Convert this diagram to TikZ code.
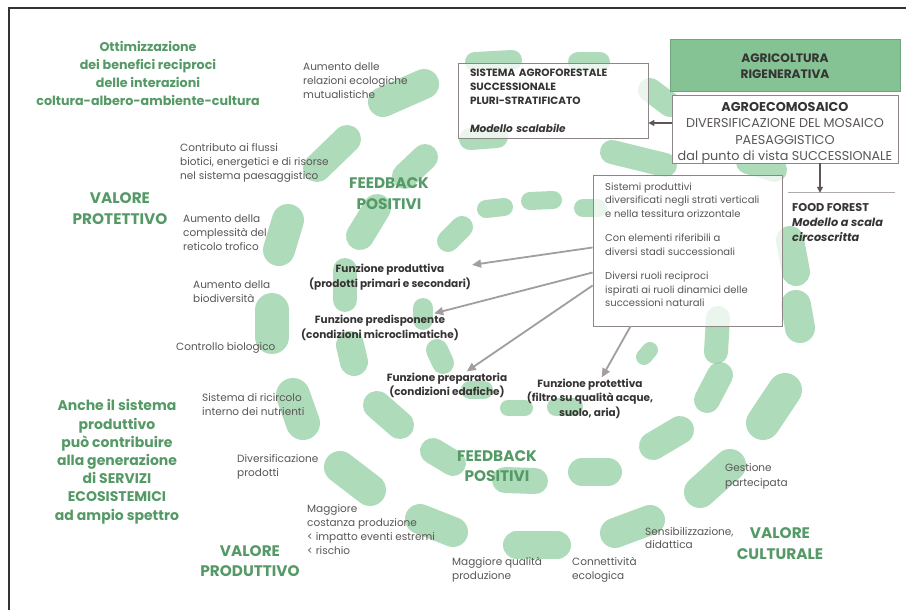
\documentclass[tikz,border=0pt]{standalone}
\usepackage{fontspec}
\setmainfont{Poppins}
\usetikzlibrary{arrows.meta,calc}
\definecolor{blobg}{HTML}{90CE9F}
\definecolor{dgreen}{HTML}{559A66}
\definecolor{txt}{HTML}{5A5555}
\definecolor{dtxt}{HTML}{363333}
\definecolor{boxline}{HTML}{8E8585}
\definecolor{agfill}{HTML}{85C294}
\definecolor{agline}{HTML}{6FA67E}
\definecolor{arrg}{HTML}{A39D9D}
\definecolor{darrc}{HTML}{5E5656}
\newcommand{\gb}[3]{%
  \draw[line cap=round, line width=#1, draw=blobg, draw opacity=0.72] #2 -- #3;}
\begin{document}
\begin{tikzpicture}[x=1pt,y=-1pt,
  bigg/.style={font=\fontsize{15.3}{21}\selectfont\bfseries, text=dgreen, align=center, anchor=base, inner sep=0pt},
  midg/.style={font=\fontsize{12.7}{18}\selectfont\bfseries, text=dgreen, align=center, anchor=base, inner sep=0pt},
  small/.style={font=\fontsize{10.5}{14}\selectfont, text=txt, align=left, anchor=base west, inner sep=0pt},
  func/.style={font=\fontsize{10.5}{15}\selectfont\bfseries, text=dtxt, align=center, anchor=base, inner sep=1pt},
  garr/.style={draw=arrg, line width=1.8pt, -{Triangle[length=9pt,width=8pt]}},
  darr/.style={draw=darrc, line width=1.4pt, -{Triangle[length=6pt,width=6pt]}},
  tbox/.style={draw=boxline, line width=0.8pt, fill=white, fill opacity=0.75, text opacity=1}
]
\useasboundingbox (0,0) rectangle (906,610);
\fill[white] (0,0) rectangle (906,610);

% ---- green blobs (spiral) ----
\gb{30pt}{(383,102)}{(424,84)}
\gb{28pt}{(317,168)}{(347,139)}
\gb{26pt}{(405,176)}{(425,157)}
\gb{28pt}{(360,236)}{(377,208)}
\gb{32pt}{(279,250)}{(288,220)}
\gb{22pt}{(448,241)}{(462,227)}
\gb{18pt}{(486,209)}{(504,207)}
\gb{18pt}{(530,201)}{(553,200)}
\gb{18pt}{(583,208)}{(598,208)}
\gb{22pt}{(470,139)}{(497,137)}
\gb{20pt}{(475,62)}{(512,60)}
\gb{20pt}{(578,62)}{(600,62)}
\gb{24pt}{(345,270)}{(345,300)}
\gb{20pt}{(423,308)}{(423,320)}
\gb{34pt}{(272,310)}{(272,337)}
\gb{28pt}{(350,345)}{(354,362)}
\gb{22pt}{(437,350)}{(443,363)}
\gb{34pt}{(293,395)}{(303,423)}
\gb{28pt}{(377,405)}{(400,425)}
\gb{32pt}{(340,467)}{(370,490)}
\gb{26pt}{(433,451)}{(453,463)}
\gb{26pt}{(505,480)}{(535,481)}
\gb{16pt}{(508,408)}{(525,408)}
\gb{18pt}{(556,407)}{(574,407)}
\gb{30pt}{(420,519)}{(453,532)}
\gb{28pt}{(517,545)}{(557,545)}
\gb{28pt}{(582,472)}{(608,472)}
\gb{30pt}{(615,533)}{(650,520)}
\gb{28pt}{(653,446)}{(680,430)}
\gb{32pt}{(700,492)}{(730,465)}
\gb{26pt}{(707,400)}{(720,375)}
\gb{34pt}{(763,423)}{(785,390)}
\gb{16pt}{(644,357)}{(650,350)}
\gb{24pt}{(718,318)}{(716,352)}
\gb{28pt}{(790,240)}{(796,272)}
\gb{30pt}{(796,305)}{(800,328)}
\gb{24pt}{(650,90)}{(670,105)}
\gb{24pt}{(612,152)}{(665,165)}
\gb{24pt}{(748,162)}{(775,170)}
\gb{18pt}{(470,390)}{(484,390)}

% ---- frame ----
\draw[line width=1.3pt, draw=black!80] (906,8) -- (9,8) -- (9,610);

% ---- boxes ----
\node[draw=agline, fill=agfill, line width=0.8pt, minimum width=230pt, minimum height=52pt] (agric) at (785,65) {};
\node[font=\fontsize{12.2}{16}\selectfont\bfseries, text=dtxt, align=center, anchor=base, inner sep=0pt] (agrictxt) at (785,78.5)
      {AGRICOLTURA\\RIGENERATIVA};
\node[draw=boxline, fill=white, line width=0.8pt, minimum width=226pt, minimum height=68pt] (agro) at (785,129) {};
\node[font=\fontsize{12.8}{16.3}\selectfont, text=txt, align=center, anchor=base, inner sep=0pt] (agrotxt) at (785,160.5)
      {{\bfseries\color{dtxt}AGROECOMOSAICO}\\DIVERSIFICAZIONE DEL MOSAICO\\PAESAGGISTICO\\dal punto di vista SUCCESSIONALE};
\node[tbox, minimum width=190pt, minimum height=75pt, inner xsep=12pt, text width=166pt, align=left,
      font=\fontsize{10.5}{14}\selectfont\bfseries, text=dtxt] (sis) at (553,100.5)
      {SISTEMA AGROFORESTALE\\SUCCESSIONALE\\PLURI-STRATIFICATO\\[14pt]\itshape Modello scalabile};
\node[tbox, minimum width=189pt, minimum height=151pt] (sist) at (687.5,250.5) {};
\node[font=\fontsize{10}{13.5}\selectfont, text=txt, align=left, anchor=base west, inner sep=0pt] (sisttxt) at (605,306.5)
      {Sistemi produttivi\\diversificati negli strati verticali\\e nella tessitura orizzontale\\[11pt]Con elementi riferibili a\\diversi stadi successionali\\[11pt]Diversi ruoli reciproci\\ispirati ai ruoli dinamici delle\\successioni naturali};
\node[minimum width=107pt, minimum height=52pt] (food) at (841.5,219) {};
\node[font=\fontsize{11.3}{15}\selectfont\bfseries, text=dtxt, align=left, anchor=base west, inner sep=0pt] (foodtxt) at (792,241)
      {FOOD FOREST\\\itshape Modello a scala\\\itshape circoscritta};
\draw[draw=boxline!70, line width=0.8pt] (food.north west) -- (food.north east);

% ---- dark arrows ----
\draw[darr] ([yshift=6pt]agro.west) -- ([yshift=6pt]agro.west -| sis.east);
\draw[darr] ([xshift=35pt]agro.south) -- ([xshift=35pt]agro.south |- food.north);

% ---- green headings ----
\node[midg] (otti) at (148,106) {Ottimizzazione\\dei benefici reciproci\\delle interazioni\\coltura-albero-ambiente-cultura};
\node[bigg] (vprot) at (120,224.5) {VALORE\\PROTETTIVO};
\node[midg, font=\fontsize{14}{18.2}\selectfont\bfseries] (anche) at (117,520) {Anche il sistema\\produttivo\\può contribuire\\alla generazione\\di SERVIZI\\ECOSISTEMICI\\ad ampio spettro};
\node[bigg, font=\fontsize{15.3}{20}\selectfont\bfseries] (vprod) at (250,576) {VALORE\\PRODUTTIVO};
\node[bigg] (vcult) at (780,559) {VALORE\\CULTURALE};
\node[bigg] (fb1) at (389,209) {FEEDBACK\\POSITIVI};
\node[bigg, font=\fontsize{15.3}{20}\selectfont\bfseries] (fb2) at (497,481) {FEEDBACK\\POSITIVI};

% ---- small texts ----
\node[small] (aum1) at (303,98.5) {Aumento delle\\relazioni ecologiche\\mutualistiche};
\node[small] (contr) at (180,179.5) {Contributo ai flussi\\biotici, energetici e di risorse\\nel sistema paesaggistico};
\node[small] (compl) at (183,250.5) {Aumento della\\complessità del\\reticolo trofico};
\node[small] (biod) at (193,302.5) {Aumento della\\biodiversità};
\node[small] (ctrl) at (176,350.5) {Controllo biologico};
\node[small] (ricir) at (202,415.5) {Sistema di ricircolo\\interno dei nutrienti};
\node[small] (dprod) at (237,476.5) {Diversificazione\\prodotti};
\node[small] (cost) at (307,554.5) {Maggiore\\costanza produzione\\< impatto eventi estremi\\< rischio};
\node[small] (qual) at (452,579.5) {Maggiore qualità\\produzione};
\node[small] (conn) at (572,579.5) {Connettività\\ecologica};
\node[small, font=\fontsize{10.5}{13}\selectfont] (sens) at (645,548.5) {Sensibilizzazione,\\didattica};
\node[small, font=\fontsize{10.5}{15}\selectfont] (gest) at (725,486.5) {Gestione\\partecipata};

% ---- functions ----
\node[func] (fprod) at (390,287) {Funzione produttiva\\(prodotti primari e secondari)};
\node[func] (fpred) at (380,338) {Funzione predisponente\\(condizioni microclimatiche)};
\node[func, font=\fontsize{10.5}{14}\selectfont\bfseries] (fprep) at (447,395) {Funzione preparatoria\\(condizioni edafiche)};
\node[func, font=\fontsize{10.5}{14.5}\selectfont\bfseries] (fprot) at (590,416) {Funzione protettiva\\(filtro su qualità acque,\\suolo, aria)};

% ---- gray arrows ----
\draw[garr] ([yshift=3pt]sist.west) -- (fprod);
\draw[garr] ([yshift=-22pt]sist.west) -- (fpred);
\draw[garr] ([yshift=-35pt]sist.west) -- (fprep);
\draw[garr] ([xshift=-57pt]sist.south) -- (fprot);
\end{tikzpicture}
\end{document}
